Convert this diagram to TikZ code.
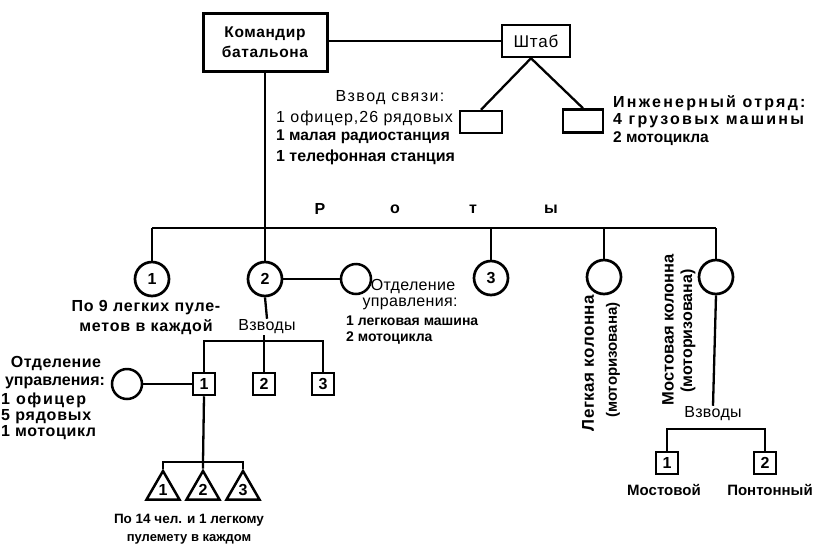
\documentclass[tikz,border=0pt]{standalone}
\usepackage{fontspec}
\setmainfont{Liberation Sans}
\usetikzlibrary{shapes.geometric,calc}
\newcommand\lsp[1]{\addfontfeatures{LetterSpace=#1}}
\begin{document}
\begin{tikzpicture}[x=1pt,y=-1pt,line width=2.3pt,
  every node/.style={inner sep=0pt,font=\bfseries\fontsize{16}{18}\selectfont},
  bf/.style 2 args={font=\bfseries\fontsize{#1}{#1}\selectfont\lsp{#2}},
  rg/.style 2 args={font=\fontsize{#1}{#1}\selectfont\lsp{#2}},
  cmdbox/.style={draw,rectangle,line width=3pt,minimum width=124pt,minimum height=58pt,align=center,font=\bfseries\fontsize{15.5}{20}\selectfont\lsp{4}},
  smallbox/.style={draw,rectangle,line width=2.5pt},
  circ/.style={draw,circle,minimum size=34pt,line width=2.7pt,font=\bfseries\fontsize{16}{18}\selectfont},
  scirc/.style={draw,circle,minimum size=30pt,line width=2.5pt},
  sq/.style={draw,rectangle,minimum size=22pt,line width=2.5pt,font=\bfseries\fontsize{16}{18}\selectfont},
  tri/.style={draw,regular polygon,regular polygon sides=3,minimum size=38pt,line width=2.5pt,font=\bfseries\fontsize{16}{18}\selectfont}]
\useasboundingbox (0,0) rectangle (813,544);
% top
\node[cmdbox] (cmd) at (265,42) {Командир\\батальона};
\node[smallbox,rg={17}{5},minimum width=68pt,minimum height=32pt] (shtab) at (536,41) {Штаб};
\node[smallbox,minimum width=42pt,minimum height=22pt] (svz) at (481,122) {};
\node[smallbox,minimum width=40pt,minimum height=23pt] (eng) at (583,121) {};
\draw (cmd.east |- shtab.west) -- (shtab.west);
\draw ($(shtab.south)+(-5,0)$) -- (svz.north);
\draw ($(shtab.south)+(-5,0)$) -- (eng.north);
\node[rg={16}{9}] (svz1) at (390,98) {Взвод связи:};
\node[rg={16}{6},anchor=west] (svz2) at (275,118) {1 офицер,26 рядовых};
\node[bf={15.5}{0},anchor=west] (svz3) at (275,137) {1 малая радиостанция};
\node[bf={16}{0},anchor=west] (svz4) at (275,157) {1 телефонная станция};
\node[bf={16}{14},anchor=west] (eng1) at (612,103) {Инженерный отряд:};
\node[bf={16}{14},anchor=west] (eng2) at (612,121) {4 грузовых машины};
\node[bf={15.5}{0},anchor=west] (eng3) at (612,139) {2 мотоцикла};
% roty
\coordinate (j) at (265,228);
\coordinate (rl) at (152,228);
\coordinate (rr) at (716,228);
\draw (cmd.south) -- (j);
\draw (rl) -- (rr);
\node (rP) at (320,209) {Р};
\node (ro) at (395,209) {о};
\node (rt) at (473,209) {т};
\node (ry) at (551,209) {ы};
\node[circ] (c1) at (152,279) {1};
\node[circ] (c2) at (265,279) {2};
\node[circ] (c3) at (491,278) {3};
\node[circ] (c4) at (604,277) {};
\node[circ] (c5) at (716,277) {};
\foreach \c in {c1,c2,c3,c4,c5} \draw (\c.north |- rl) -- (\c.north);
\node[scirc] (cs) at (356,279) {};
\draw (c2.east) -- (cs.west);
\node[bf={16}{5}] (t9a) at (146,308) {По 9 легких пуле-};
\node[bf={16}{5}] (t9b) at (146,327) {метов в каждой};
\node[rg={16}{2}] (vz1) at (267,327) {Взводы};
\draw (c2.south) -- (vz1.north);
\node[rg={16}{2}] (ou1) at (413,287) {Отделение};
\node[rg={16}{2}] (ou2) at (410,304) {управления:};
\node[bf={14}{0},anchor=west] (ou3) at (345,321) {1 легковая машина};
\node[bf={14}{0},anchor=west] (ou4) at (345,338) {2 мотоцикла};
% rotated columns
\node[bf={17}{3},rotate=90] (lk1) at (588,363) {Легкая колонна};
\node[bf={15}{0},rotate=90] (lk2) at (613,360) {(моторизована)};
\node[bf={16.5}{0},rotate=90] (mk1) at (668,330) {Мостовая колонна};
\node[bf={16}{0},rotate=90] (mk2) at (688,331) {(моторизована)};
% bridge column platoons
\node[rg={16}{2}] (vz2) at (713,414) {Взводы};
\draw (c5.south) -- (vz2.north);
\node[sq] (m1) at (667,463) {1};
\node[sq] (m2) at (765,463) {2};
\coordinate (mh) at (716,429);
\draw (m1.north) |- (mh) -| (m2.north);
\node[bf={15}{0}] (ml1) at (664,490) {Мостовой};
\node[bf={15}{0}] (ml2) at (770,490) {Понтонный};
% company 2 platoons
\node[sq] (p1) at (204,384) {1};
\node[sq] (p2) at (264,384) {2};
\node[sq] (p3) at (323,384) {3};
\coordinate (ph) at (264,341);
\draw (p1.north) |- (ph) -| (p3.north);
\draw ($(ph)+(0,-6)$) -- (p2.north);
\node[scirc] (cl) at (127,384) {};
\draw (cl.east) -- (p1.west);
\node[bf={16}{3}] (ol1) at (56,363) {Отделение};
\node[bf={16}{0}] (ol2) at (55,383) {управления:};
\node[bf={16}{10},anchor=west] (ol3) at (0,400) {1 офицер};
\node[bf={16}{5},anchor=west] (ol4) at (0,417) {5 рядовых};
\node[bf={16}{4},anchor=west] (ol5) at (0,433) {1 мотоцикл};
% squads
\node[tri] (t1) at (163,490) {1};
\node[tri] (t2) at (203,490) {2};
\node[tri] (t3) at (243,490) {3};
\coordinate (th) at (203,462);
\draw (p1.south) -- (th);
\draw (t1.north) |- (th) -| (t3.north);
\draw (th) -- (t2.north);
\node[bf={13.5}{0}] (b14a) at (189,520) {По 14 чел. и 1 легкому};
\node[bf={13}{0}] (b14b) at (189,539) {пулемету в каждом};
\end{tikzpicture}
\end{document}
